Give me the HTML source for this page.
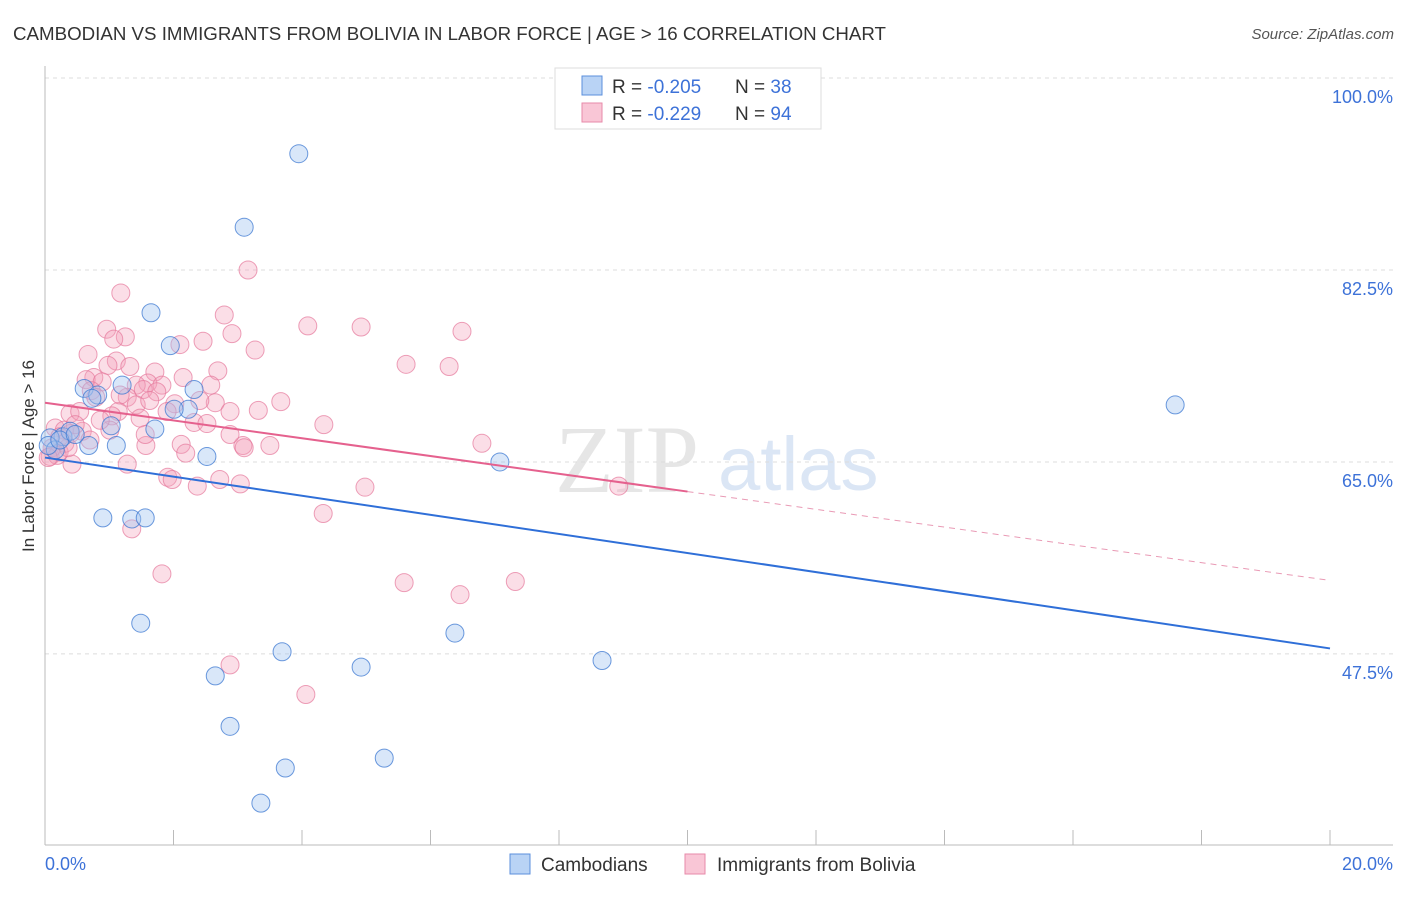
<!DOCTYPE html>
<html><head><meta charset="utf-8"><style>
body{margin:0;background:#fff;font-family:"Liberation Sans",sans-serif}
</style></head><body>
<svg id="c" width="1406" height="892" font-family="Liberation Sans, sans-serif"></svg>
<script>
const blueX=[3.95,3.10,1.65,1.95,0.61,1.20,2.32,0.82,2.23,2.01,1.03,1.71,0.28,0.68,1.11,2.52,0.08,7.08,17.59,0.90,1.35,1.56,1.49,3.69,6.38,2.65,4.92,8.67,2.88,5.28,3.74,3.36,0.16,0.39,0.05,0.23,0.73,0.47];
const blueY=[93.1,86.4,78.6,75.6,71.7,72.0,71.6,71.1,69.8,69.8,68.3,68.0,67.3,66.5,66.5,65.5,67.2,65.0,70.2,59.9,59.8,59.9,50.3,47.7,49.4,45.5,46.3,46.9,40.9,38.0,37.1,33.9,66.1,67.8,66.5,67.0,70.8,67.5];
const pinkX=[3.16,1.18,2.79,4.09,4.92,6.49,0.96,2.91,1.25,1.07,2.46,0.67,1.11,5.62,6.29,0.98,1.32,2.69,1.71,2.15,0.76,0.64,0.89,1.60,1.42,1.82,2.58,1.53,1.74,0.72,0.79,1.28,3.67,2.65,2.02,1.42,3.32,2.88,1.14,0.39,0.54,1.90,1.04,1.48,2.32,2.52,4.34,0.16,0.30,0.58,1.01,0.40,2.12,3.08,3.50,3.10,1.57,0.22,6.80,2.19,0.08,0.42,1.28,1.91,1.98,2.72,3.04,2.37,4.98,8.93,4.33,1.35,1.82,5.59,7.32,6.46,2.88,4.06,0.31,0.11,0.19,0.36,0.05,0.47,0.23,0.86,1.17,1.63,2.41,3.27,2.10,1.56,0.70,2.88];
const pinkY=[82.5,80.4,78.4,77.4,77.3,76.9,77.1,76.7,76.4,76.2,76.0,74.8,74.2,73.9,73.7,73.8,73.7,73.3,73.2,72.7,72.7,72.5,72.3,72.2,72.0,72.0,72.0,71.6,71.4,71.5,70.9,70.9,70.5,70.4,70.3,70.2,69.7,69.6,69.6,69.4,69.6,69.6,69.2,69.0,68.6,68.5,68.4,68.1,67.9,67.8,67.9,67.6,66.6,66.5,66.5,66.3,66.5,65.9,66.7,65.8,65.5,64.8,64.8,63.6,63.4,63.4,63.0,62.8,62.7,62.8,60.3,58.9,54.8,54.0,54.1,52.9,46.5,43.8,66.7,66.3,65.6,66.3,65.4,68.4,67.3,68.8,71.1,70.6,70.6,75.2,75.7,67.5,67.0,67.5];
const blueTrend=[65.4,48.0];
const pinkTrend=[70.4,54.2];
const yTicks=[100,82.5,65,47.5];
const yTickLabels=["100.0%","82.5%","65.0%","47.5%"];
const xTicks=[0,2,4,6,8,10,12,14,16,18,20];

const NS="http://www.w3.org/2000/svg";
const svg=document.getElementById('c');
const X=v=>45+v*64.25, Y=v=>78+(100-v)*10.97;
function el(t,a,p){const e=document.createElementNS(NS,t);for(const k in a)e.setAttribute(k,a[k]);(p||svg).appendChild(e);return e;}

const title=el('text',{x:13,y:40,'font-size':18,fill:'#333',textLength:873,lengthAdjust:'spacingAndGlyphs'});


title.textContent='CAMBODIAN VS IMMIGRANTS FROM BOLIVIA IN LABOR FORCE | AGE > 16 CORRELATION CHART';
const src=el('text',{x:1394,y:39,'font-size':15,fill:'#555','font-style':'italic','text-anchor':'end'});


src.textContent='Source: ZipAtlas.com';

const wm=el('text',{x:555,y:492,'font-size':96,fill:'#e6e6e6','font-family':'Liberation Serif, serif'});


wm.textContent='ZIP';
const wm2=el('text',{x:718,y:490,'font-size':76,fill:'#dbe6f5'});


wm2.textContent='atlas';

yTicks.forEach((t,i)=>{
  const g=el('line',{x1:45,x2:1393,y1:Y(t),y2:Y(t),stroke:'#dcdcdc','stroke-dasharray':'4,4'});
  
  
  const l=el('text',{x:1393,y:Y(t)+25,'font-size':18,fill:'#3d72d8','text-anchor':'end'});
  
  
  l.textContent=yTickLabels[i];
});
const ya=el('line',{x1:45,x2:45,y1:66,y2:845,stroke:'#bbb'});


const xa=el('line',{x1:45,x2:1393,y1:845,y2:845,stroke:'#bbb'});


xTicks.forEach(t=>{
  const k=el('line',{x1:X(t),x2:X(t),y1:830,y2:845,stroke:'#bbb'});
  
  
});
const x0=el('text',{x:45,y:870,'font-size':18,fill:'#3d72d8'});


x0.textContent='0.0%';
const x1=el('text',{x:1393,y:870,'font-size':18,fill:'#3d72d8','text-anchor':'end'});


x1.textContent='20.0%';
const yt=el('text',{x:34,y:456,'font-size':17,fill:'#333','text-anchor':'middle',transform:'rotate(-90 34 456)'});


yt.textContent='In Labor Force | Age > 16';

pinkX.forEach((v,i)=>{
  const c=el('circle',{cx:X(v),cy:Y(pinkY[i]),r:9,fill:'rgba(244,160,185,0.35)',stroke:'rgba(230,120,155,0.7)','stroke-width':1});
  
  
});
blueX.forEach((v,i)=>{
  const c=el('circle',{cx:X(v),cy:Y(blueY[i]),r:9,fill:'rgba(160,195,240,0.4)',stroke:'rgba(60,120,210,0.75)','stroke-width':1});
  
  
});
const pt=v=>pinkTrend[0]+(pinkTrend[1]-pinkTrend[0])*v/20;
const bt=v=>blueTrend[0]+(blueTrend[1]-blueTrend[0])*v/20;
const bl=el('line',{x1:X(0),y1:Y(bt(0)),x2:X(20),y2:Y(bt(20)),stroke:'#2f6fd8','stroke-width':2});


const pl=el('line',{x1:X(0),y1:Y(pt(0)),x2:X(10),y2:Y(pt(10)),stroke:'#e5618e','stroke-width':2});


const pd=el('line',{x1:X(10),y1:Y(pt(10)),x2:X(20),y2:Y(pt(20)),stroke:'#e99ab5','stroke-width':1,'stroke-dasharray':'6,5'});



const lb=el('rect',{x:555,y:68,width:266,height:61,fill:'#fff',stroke:'#ddd'});


[['#b9d3f5','#5b8fdc','-0.205','38',86],['#f9c6d6','#e78aa9','-0.229','94',113]].forEach((r,i)=>{
  const s=el('rect',{x:582,y:r[4]-10,width:20,height:19,fill:r[0],stroke:r[1]});
  
  
  const t=el('text',{x:612,y:r[4]+7,'font-size':19,fill:'#333'});
  
  
  t.innerHTML='R = <tspan fill="#3d72d8">'+r[2]+'</tspan><tspan x="735">N = </tspan><tspan fill="#3d72d8">'+r[3]+'</tspan>';
});
[['#b9d3f5','#5b8fdc','Cambodians',510,541],['#f9c6d6','#e78aa9','Immigrants from Bolivia',685,717]].forEach((r,i)=>{
  const s=el('rect',{x:r[3],y:854,width:20,height:20,fill:r[0],stroke:r[1]});
  
  
  const t=el('text',{x:r[4],y:871,'font-size':19,fill:'#333'});
  
  
  t.textContent=r[2];
});
</script>
</body></html>
